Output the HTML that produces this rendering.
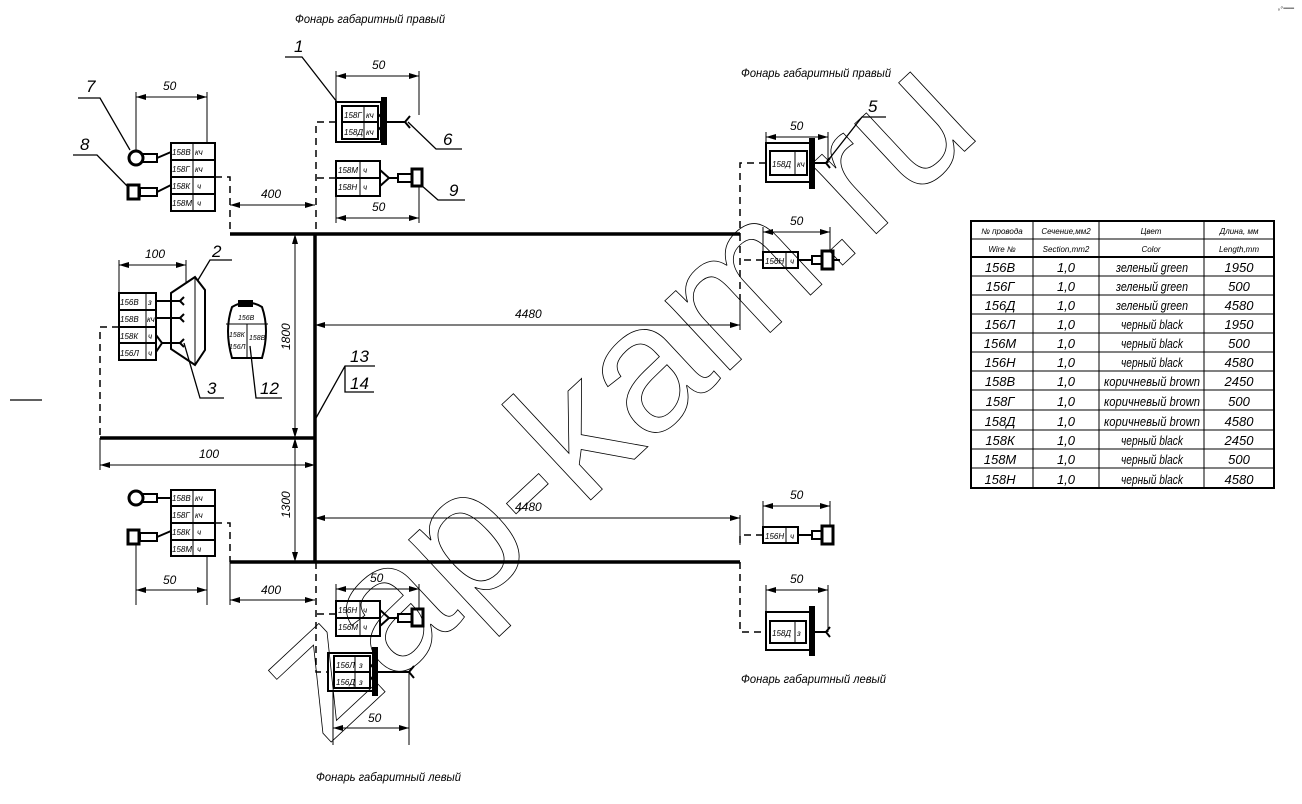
<!DOCTYPE html>
<html><head><meta charset="utf-8"><style>
html,body{margin:0;padding:0;background:#fff;width:1302px;height:804px;overflow:hidden}
svg text{font-family:"Liberation Sans Narrow","Liberation Sans",sans-serif;font-style:italic;fill:#000}
</style></head><body>
<svg width="1302" height="804" viewBox="0 0 1302 804" xmlns="http://www.w3.org/2000/svg">
<defs>
<marker id="a" viewBox="0 0 10 6" refX="10" refY="3" markerWidth="10" markerHeight="6" orient="auto-start-reverse" markerUnits="userSpaceOnUse"><path d="M0,0 L10,3 L0,6z" fill="#000"/></marker>
</defs>
<g stroke="#000" fill="none">
<g stroke-width="3.5">
<line x1="230" y1="234" x2="740" y2="234"/>
<line x1="315" y1="234" x2="315" y2="562"/>
<line x1="100" y1="438" x2="315" y2="438"/>
<line x1="230" y1="562" x2="740" y2="562"/>
</g>
<g stroke-width="1">
<line x1="295" y1="234" x2="295" y2="438" marker-start="url(#a)" marker-end="url(#a)"/>
<line x1="295" y1="438" x2="295" y2="562" marker-start="url(#a)" marker-end="url(#a)"/>
<line x1="315" y1="325" x2="740" y2="325" marker-start="url(#a)" marker-end="url(#a)"/>
<line x1="315" y1="518" x2="740" y2="518" marker-start="url(#a)" marker-end="url(#a)"/>
<line x1="100" y1="465" x2="315" y2="465" marker-start="url(#a)" marker-end="url(#a)"/>
<line x1="100" y1="438" x2="100" y2="470"/>
<line x1="230" y1="205" x2="315" y2="205" marker-start="url(#a)" marker-end="url(#a)"/>
<line x1="230" y1="600" x2="315" y2="600" marker-start="url(#a)" marker-end="url(#a)"/>
<line x1="230" y1="562" x2="230" y2="605"/>
<line x1="740" y1="300" x2="740" y2="330"/>
<line x1="740" y1="515" x2="740" y2="545"/>
<line x1="136" y1="97" x2="207" y2="97" marker-start="url(#a)" marker-end="url(#a)"/>
<line x1="136" y1="92" x2="136" y2="152"/><line x1="207" y1="92" x2="207" y2="143"/>
<line x1="119" y1="265" x2="186" y2="265" marker-start="url(#a)" marker-end="url(#a)"/>
<line x1="119" y1="260" x2="119" y2="293"/><line x1="186" y1="260" x2="186" y2="282"/>
<line x1="336" y1="76" x2="419" y2="76" marker-start="url(#a)" marker-end="url(#a)"/>
<line x1="336" y1="71" x2="336" y2="102"/><line x1="419" y1="71" x2="419" y2="115"/>
<line x1="336" y1="218" x2="419" y2="218" marker-start="url(#a)" marker-end="url(#a)"/>
<line x1="336" y1="196" x2="336" y2="223"/><line x1="419" y1="186" x2="419" y2="223"/>
<line x1="136" y1="590" x2="207" y2="590" marker-start="url(#a)" marker-end="url(#a)"/>
<line x1="136" y1="545" x2="136" y2="605"/><line x1="207" y1="556" x2="207" y2="605"/>
<line x1="336" y1="589" x2="419" y2="589" marker-start="url(#a)" marker-end="url(#a)"/>
<line x1="336" y1="584" x2="336" y2="601"/><line x1="419" y1="584" x2="419" y2="608"/>
<line x1="333" y1="728" x2="409" y2="728" marker-start="url(#a)" marker-end="url(#a)"/>
<line x1="333" y1="691" x2="333" y2="745"/><line x1="409" y1="672" x2="409" y2="745"/>
<line x1="766" y1="137" x2="828" y2="137" marker-start="url(#a)" marker-end="url(#a)"/>
<line x1="766" y1="132" x2="766" y2="143"/><line x1="828" y1="132" x2="828" y2="163"/>
<line x1="763" y1="232" x2="830" y2="232" marker-start="url(#a)" marker-end="url(#a)"/>
<line x1="763" y1="227" x2="763" y2="252"/><line x1="830" y1="227" x2="830" y2="251"/>
<line x1="763" y1="506" x2="830" y2="506" marker-start="url(#a)" marker-end="url(#a)"/>
<line x1="763" y1="501" x2="763" y2="527"/><line x1="830" y1="501" x2="830" y2="526"/>
<line x1="766" y1="590" x2="828" y2="590" marker-start="url(#a)" marker-end="url(#a)"/>
<line x1="766" y1="585" x2="766" y2="612"/><line x1="828" y1="585" x2="828" y2="632"/>
</g>
<g stroke-width="1.5" stroke-dasharray="7,5">
<path d="M215,177 H230 V234"/>
<path d="M336,122 H316 V234"/>
<path d="M336,178 H316"/>
<path d="M119,327 H100 V438"/>
<path d="M215,523 H230 V562"/>
<path d="M316,562 V672 H329"/>
<path d="M336,614 H316"/>
<path d="M766,163 H740 V234"/>
<path d="M763,260 H740"/>
<path d="M740,234 V300"/>
<path d="M740,562 V632 H766"/>
<path d="M763,535 H740 V545"/>
</g>
<g stroke-width="2">
<rect x="171" y="143" width="44" height="68"/><line x1="171" y1="160" x2="215" y2="160"/><line x1="171" y1="177" x2="215" y2="177"/><line x1="171" y1="194" x2="215" y2="194"/><line x1="193" y1="143" x2="193" y2="211" stroke-width="1"/>
<rect x="171" y="490" width="44" height="66"/><line x1="171" y1="506" x2="215" y2="506"/><line x1="171" y1="523" x2="215" y2="523"/><line x1="171" y1="540" x2="215" y2="540"/><line x1="193" y1="490" x2="193" y2="556" stroke-width="1"/>
<rect x="119" y="293" width="37" height="67"/><line x1="119" y1="310" x2="156" y2="310"/><line x1="119" y1="327" x2="156" y2="327"/><line x1="119" y1="343" x2="156" y2="343"/><line x1="146" y1="293" x2="146" y2="360" stroke-width="1"/>
<rect x="336" y="102" width="45" height="40"/><rect x="342" y="106" width="36" height="33"/><line x1="342" y1="122" x2="378" y2="122"/><line x1="364" y1="106" x2="364" y2="139" stroke-width="1"/><rect x="382" y="98" width="4" height="46" fill="#000"/>
<rect x="336" y="161" width="44" height="35"/><line x1="336" y1="178" x2="380" y2="178"/><line x1="360" y1="161" x2="360" y2="196" stroke-width="1"/>
<rect x="336" y="601" width="44" height="35"/><line x1="336" y1="618" x2="380" y2="618"/><line x1="360" y1="601" x2="360" y2="636" stroke-width="1"/>
<rect x="328" y="653" width="45" height="38"/><rect x="334" y="656" width="36" height="32"/><line x1="334" y1="672" x2="370" y2="672"/><line x1="355" y1="656" x2="355" y2="688" stroke-width="1"/><rect x="373" y="648" width="4" height="47" fill="#000"/>
<rect x="766" y="143" width="44" height="39"/><rect x="770" y="151" width="37" height="24"/><line x1="795" y1="151" x2="795" y2="175" stroke-width="1"/><rect x="810" y="139" width="4" height="49" fill="#000"/>
<rect x="763" y="252" width="35" height="16"/><line x1="786" y1="252" x2="786" y2="268" stroke-width="1"/>
<rect x="763" y="527" width="35" height="16"/><line x1="786" y1="527" x2="786" y2="543" stroke-width="1"/>
<rect x="766" y="612" width="44" height="38"/><rect x="770" y="621" width="36" height="22"/><line x1="795" y1="621" x2="795" y2="643" stroke-width="1"/><rect x="810" y="607" width="4" height="48" fill="#000"/>
<polygon points="171,293 195,277 205,290 205,350 195,365 171,349"/><line x1="195" y1="277" x2="195" y2="365" stroke-width="1"/>
<path d="M232,307 Q247,298 262,307 Q270,330 262,358 H232 Q224,330 232,307z"/><line x1="226" y1="324" x2="268" y2="324" stroke-width="1"/><line x1="247" y1="324" x2="247" y2="358" stroke-width="1"/>
</g>
<rect x="238" y="300" width="15" height="7" fill="#000" stroke="none"/>
<g stroke-width="2">
<line x1="157" y1="158" x2="171" y2="152"/><line x1="157" y1="192" x2="171" y2="185"/>
<line x1="157" y1="498" x2="171" y2="498"/><line x1="157" y1="537" x2="171" y2="531"/>
<path d="M156,301 H180 M156,318 H180 M156,335 L162,343 L156,352 M162,343 H180"/>
<path d="M180,301 l4,-4 M180,301 l4,4 M180,318 l4,-4 M180,318 l4,4 M180,343 l4,-4 M180,343 l4,4"/>
<path d="M378,114 l8,8 l-8,8 M386,122 H405 l5,-6 M405,122 l5,6"/>
<path d="M380,170 l9,8 l-9,8 M389,178 H398"/>
<path d="M380,610 l9,8 l-9,8 M389,618 H398"/>
<path d="M370,664 l7,8 l-7,8 M377,672 H409 l5,-6 M409,672 l5,6"/>
<path d="M814,163 H826 l4,-5 M826,163 l4,5"/>
<path d="M814,632 H826 l4,-5 M826,632 l4,5"/>
<path d="M798,260 H812 M834,260 H840 M798,535 H812"/>
</g>
<g stroke-width="2">
<rect x="143" y="154" width="14" height="8"/><circle cx="136" cy="158" r="7" stroke-width="3"/>
<rect x="140" y="188" width="17" height="8"/><rect x="128" y="185" width="11" height="14" stroke-width="3"/>
<rect x="143" y="494" width="14" height="8"/><circle cx="136" cy="498" r="7" stroke-width="3"/>
<rect x="140" y="533" width="17" height="8"/><rect x="128" y="530" width="11" height="14" stroke-width="3"/>
<rect x="398" y="174" width="14" height="8"/><rect x="412" y="169" width="10" height="17" stroke-width="3"/>
<rect x="398" y="614" width="14" height="8"/><rect x="412" y="609" width="11" height="17" stroke-width="3"/>
<rect x="812" y="256" width="10" height="8"/><rect x="822" y="251" width="11" height="18" stroke-width="3"/>
<rect x="812" y="531" width="10" height="8"/><rect x="822" y="526" width="11" height="18" stroke-width="3"/>
</g>
<g stroke-width="1.3">
<path d="M78,98 H100 L130,150"/>
<path d="M73,155 H97 L129,188"/>
<path d="M285,57 H302 L337,102"/>
<path d="M408,122 L436,149 H462"/>
<path d="M421,185 L438,200 H465"/>
<path d="M198,280 L210,260 H232"/>
<path d="M184,343 L200,398 H224"/>
<path d="M250,346 L256,398 H282"/>
<path d="M316,418 L345,366 H375 M345,366 V392 H374"/>
<path d="M826,163 L862,117 H886"/>
<line x1="10" y1="400" x2="42" y2="400"/>
</g>
<text x="0" y="0" transform="translate(655,440) rotate(-43)" text-anchor="middle" font-size="180" stroke="#000" stroke-width="0.8" style="fill:none;font-style:normal;font-family:'Liberation Sans',sans-serif">zap-kam.ru</text>
<g stroke-width="1">
<rect x="971" y="221" width="303" height="267" stroke-width="2"/>
<line x1="971" y1="239" x2="1274" y2="239"/><line x1="971" y1="257" x2="1274" y2="257" stroke-width="2"/>
<line x1="971" y1="276" x2="1274" y2="276"/><line x1="971" y1="295" x2="1274" y2="295"/><line x1="971" y1="314" x2="1274" y2="314"/><line x1="971" y1="333" x2="1274" y2="333"/><line x1="971" y1="352" x2="1274" y2="352"/><line x1="971" y1="371" x2="1274" y2="371"/><line x1="971" y1="390" x2="1274" y2="390"/><line x1="971" y1="410" x2="1274" y2="410"/><line x1="971" y1="430" x2="1274" y2="430"/><line x1="971" y1="449" x2="1274" y2="449"/><line x1="971" y1="468" x2="1274" y2="468"/>
<line x1="1033" y1="221" x2="1033" y2="488"/><line x1="1099" y1="221" x2="1099" y2="488"/><line x1="1204" y1="221" x2="1204" y2="488"/>
</g>
</g>
<g font-size="12">
<text x="295" y="23" textLength="150" lengthAdjust="spacingAndGlyphs">Фонарь габаритный правый</text>
<text x="741" y="77" textLength="150" lengthAdjust="spacingAndGlyphs">Фонарь габаритный правый</text>
<text x="741" y="683" textLength="145" lengthAdjust="spacingAndGlyphs">Фонарь габаритный левый</text>
<text x="316" y="781" textLength="145" lengthAdjust="spacingAndGlyphs">Фонарь габаритный левый</text>
<text x="163" y="90">50</text><text x="372" y="69">50</text><text x="372" y="211">50</text>
<text x="261" y="198">400</text><text x="261" y="594">400</text>
<text x="145" y="258">100</text><text x="199" y="458">100</text>
<text x="515" y="318">4480</text><text x="515" y="511">4480</text>
<text x="163" y="584">50</text><text x="370" y="582">50</text><text x="368" y="722">50</text>
<text x="790" y="130">50</text><text x="790" y="225">50</text><text x="790" y="499">50</text><text x="790" y="583">50</text>
<text transform="translate(290,350) rotate(-90)">1800</text>
<text transform="translate(290,518) rotate(-90)">1300</text>
</g>
<g font-size="17">
<text x="86" y="92">7</text><text x="80" y="150">8</text><text x="294" y="52">1</text><text x="443" y="145">6</text><text x="449" y="196">9</text>
<text x="212" y="257">2</text><text x="207" y="394">3</text><text x="260" y="394">12</text><text x="350" y="362">13</text><text x="350" y="389">14</text><text x="868" y="112">5</text>
</g>
<g font-size="8">
<text x="172" y="155">158В</text><text x="195" y="155">кч</text>
<text x="172" y="172">158Г</text><text x="195" y="172">кч</text>
<text x="172" y="189">158К</text><text x="197" y="189">ч</text>
<text x="172" y="206">158М</text><text x="197" y="206">ч</text>
<text x="172" y="501">158В</text><text x="195" y="501">кч</text>
<text x="172" y="518">158Г</text><text x="195" y="518">кч</text>
<text x="172" y="535">158К</text><text x="197" y="535">ч</text>
<text x="172" y="552">158М</text><text x="197" y="552">ч</text>
<text x="120" y="305">156В</text><text x="148" y="305">з</text>
<text x="120" y="322">158В</text><text x="147" y="322">кч</text>
<text x="120" y="339">158К</text><text x="148" y="339">ч</text>
<text x="120" y="356">156Л</text><text x="148" y="356">ч</text>
<text x="344" y="118">158Г</text><text x="366" y="118">кч</text>
<text x="344" y="135">158Д</text><text x="366" y="135">кч</text>
<text x="338" y="173">158М</text><text x="363" y="173">ч</text>
<text x="338" y="190">158Н</text><text x="363" y="190">ч</text>
<text x="338" y="613">156Н</text><text x="363" y="613">ч</text>
<text x="338" y="630">156М</text><text x="363" y="630">ч</text>
<text x="336" y="668">156Л</text><text x="359" y="668">з</text>
<text x="336" y="685">156Д</text><text x="359" y="685">з</text>
<text x="772" y="167">158Д</text><text x="797" y="167">кч</text>
<text x="765" y="264">156Н</text><text x="790" y="264">ч</text>
<text x="765" y="539">156Н</text><text x="790" y="539">ч</text>
<text x="772" y="636">158Д</text><text x="797" y="636">з</text>
</g>
<g font-size="7">
<text x="238" y="320">156В</text><text x="229" y="337">158К</text><text x="229" y="349">156Л</text><text x="249" y="340">158В</text>
</g>
<g font-size="8" text-anchor="middle">
<text x="1002" y="234">№ провода</text><text x="1066" y="234">Сечение,мм2</text><text x="1151" y="234">Цвет</text><text x="1239" y="234">Длина, мм</text>
<text x="1002" y="252">Wire №</text><text x="1066" y="252">Section,mm2</text><text x="1151" y="252">Color</text><text x="1239" y="252">Length,mm</text>
</g>
<g font-size="13" text-anchor="middle">
<text x="1000" y="272">156В</text><text x="1066" y="272">1,0</text><text x="1239" y="272">1950</text>
<text x="1000" y="291">156Г</text><text x="1066" y="291">1,0</text><text x="1239" y="291">500</text>
<text x="1000" y="310">156Д</text><text x="1066" y="310">1,0</text><text x="1239" y="310">4580</text>
<text x="1000" y="329">156Л</text><text x="1066" y="329">1,0</text><text x="1239" y="329">1950</text>
<text x="1000" y="348">156М</text><text x="1066" y="348">1,0</text><text x="1239" y="348">500</text>
<text x="1000" y="367">156Н</text><text x="1066" y="367">1,0</text><text x="1239" y="367">4580</text>
<text x="1000" y="386">158В</text><text x="1066" y="386">1,0</text><text x="1239" y="386">2450</text>
<text x="1000" y="406">158Г</text><text x="1066" y="406">1,0</text><text x="1239" y="406">500</text>
<text x="1000" y="426">158Д</text><text x="1066" y="426">1,0</text><text x="1239" y="426">4580</text>
<text x="1000" y="445">158К</text><text x="1066" y="445">1,0</text><text x="1239" y="445">2450</text>
<text x="1000" y="464">158М</text><text x="1066" y="464">1,0</text><text x="1239" y="464">500</text>
<text x="1000" y="484">158Н</text><text x="1066" y="484">1,0</text><text x="1239" y="484">4580</text>
</g>
<g font-size="13">
<text x="1116" y="272" textLength="72" lengthAdjust="spacingAndGlyphs">зеленый green</text>
<text x="1116" y="291" textLength="72" lengthAdjust="spacingAndGlyphs">зеленый green</text>
<text x="1116" y="310" textLength="72" lengthAdjust="spacingAndGlyphs">зеленый green</text>
<text x="1121" y="329" textLength="62" lengthAdjust="spacingAndGlyphs">черный black</text>
<text x="1121" y="348" textLength="62" lengthAdjust="spacingAndGlyphs">черный black</text>
<text x="1121" y="367" textLength="62" lengthAdjust="spacingAndGlyphs">черный black</text>
<text x="1104" y="386" textLength="96" lengthAdjust="spacingAndGlyphs">коричневый brown</text>
<text x="1104" y="406" textLength="96" lengthAdjust="spacingAndGlyphs">коричневый brown</text>
<text x="1104" y="426" textLength="96" lengthAdjust="spacingAndGlyphs">коричневый brown</text>
<text x="1121" y="445" textLength="62" lengthAdjust="spacingAndGlyphs">черный black</text>
<text x="1121" y="464" textLength="62" lengthAdjust="spacingAndGlyphs">черный black</text>
<text x="1121" y="484" textLength="62" lengthAdjust="spacingAndGlyphs">черный black</text>
</g>
<text x="1278" y="10" font-size="5">ₒ⁰ ═══</text>
</svg>
</body></html>
